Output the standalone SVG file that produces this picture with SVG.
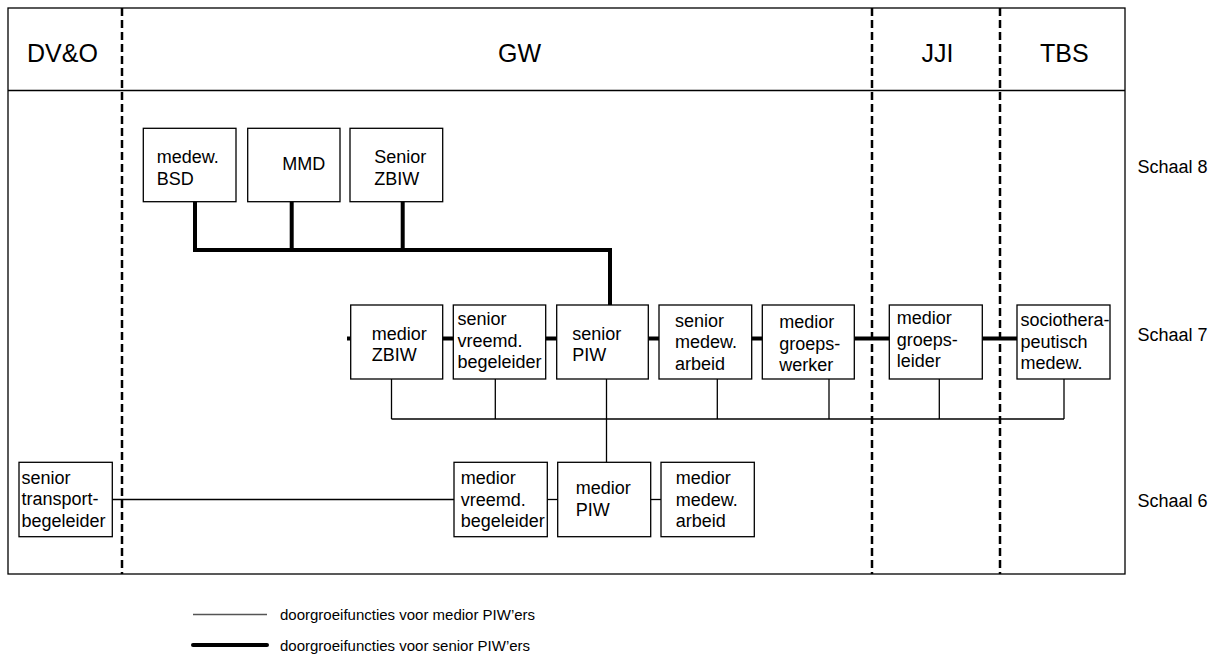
<svg xmlns="http://www.w3.org/2000/svg" width="1215" height="655" viewBox="0 0 1215 655">
<style>
text{font-family:"Liberation Sans",Arial,sans-serif;fill:#000}
.hd{font-size:25px}
.bx{font-size:18px}
.sc{font-size:18px}
.lg{font-size:15px}
.box{fill:#fff;stroke:#000;stroke-width:1.3}
.frame{fill:none;stroke:#000;stroke-width:1.3}
.dash{stroke:#000;stroke-width:2.5;stroke-dasharray:8 4;fill:none}
.thin{stroke:#000;stroke-width:1.3;fill:none}
.thick{stroke:#000;stroke-width:4;fill:none}
</style>
<rect width="1215" height="655" fill="#fff"/>
<g id="frame">
<rect class="frame" x="8" y="8" width="1117" height="566"/>
<line class="frame" x1="8" y1="90.5" x2="1125" y2="90.5"/>
<line class="dash" x1="122" y1="8" x2="122" y2="574"/>
<line class="dash" x1="872" y1="8" x2="872" y2="574"/>
<line class="dash" x1="1000" y1="8" x2="1000" y2="574"/>
<text class="hd" x="27" y="61.5">DV&amp;O</text>
<text class="hd" x="498" y="61.5">GW</text>
<text class="hd" x="921.5" y="61.5">JJI</text>
<text class="hd" x="1040" y="61.5">TBS</text>
<text class="sc" x="1137.5" y="173">Schaal 8</text>
<text class="sc" x="1137.5" y="341">Schaal 7</text>
<text class="sc" x="1137.5" y="507">Schaal 6</text>
</g>
<g id="connectors">
<polyline class="thick" points="195,201.7 195,250 610,250 610,305"/>
<line class="thick" x1="291.7" y1="201.7" x2="291.7" y2="250"/>
<line class="thick" x1="402.7" y1="201.7" x2="402.7" y2="250"/>
<line class="thick" x1="347" y1="338.5" x2="350.7" y2="338.5"/>
<line class="thick" x1="442.7" y1="338.5" x2="453.3" y2="338.5"/>
<line class="thick" x1="545.7" y1="338.5" x2="556.7" y2="338.5"/>
<line class="thick" x1="648.3" y1="338.5" x2="659" y2="338.5"/>
<line class="thick" x1="751.7" y1="338.5" x2="762.3" y2="338.5"/>
<line class="thick" x1="854.3" y1="338.5" x2="889.3" y2="338.5"/>
<line class="thick" x1="982.3" y1="338.5" x2="1017" y2="338.5"/>
<line class="thin" x1="391.5" y1="419" x2="1064" y2="419"/>
<line class="thin" x1="391.5" y1="379" x2="391.5" y2="419"/>
<line class="thin" x1="495.3" y1="379" x2="495.3" y2="419"/>
<line class="thin" x1="606.5" y1="379" x2="606.5" y2="462.3"/>
<line class="thin" x1="717.3" y1="379" x2="717.3" y2="419"/>
<line class="thin" x1="829" y1="379" x2="829" y2="419"/>
<line class="thin" x1="939.3" y1="379" x2="939.3" y2="419"/>
<line class="thin" x1="1064" y1="379" x2="1064" y2="419"/>
<line class="thin" x1="110" y1="499.5" x2="454" y2="499.5"/>
<line class="thin" x1="547.3" y1="499.5" x2="557.7" y2="499.5"/>
<line class="thin" x1="650.7" y1="499.5" x2="661" y2="499.5"/>
</g>
<g id="n-medew-bsd"><rect class="box" x="143.3" y="128.3" width="92.7" height="73.4"/><text class="bx" x="156.7"><tspan x="156.7" y="163.3">medew.</tspan><tspan x="156.7" y="185">BSD</tspan></text></g>
<g id="n-mmd"><rect class="box" x="247.7" y="128.3" width="92.3" height="73.4"/><text class="bx" x="282.3" y="170">MMD</text></g>
<g id="n-senior-zbiw"><rect class="box" x="350" y="128.3" width="92.7" height="73.4"/><text class="bx"><tspan x="374.3" y="163.3">Senior</tspan><tspan x="374.3" y="184.5">ZBIW</tspan></text></g>
<g id="n-medior-zbiw"><rect class="box" x="350.7" y="305" width="92" height="74"/><text class="bx"><tspan x="371.7" y="340">medior</tspan><tspan x="371.7" y="361">ZBIW</tspan></text></g>
<g id="n-senior-vreemd"><rect class="box" x="453.3" y="305" width="92.4" height="74"/><text class="bx"><tspan x="457.5" y="325">senior</tspan><tspan x="457.5" y="346.5">vreemd.</tspan><tspan x="457.5" y="368">begeleider</tspan></text></g>
<g id="n-senior-piw"><rect class="box" x="556.7" y="305" width="91.6" height="74"/><text class="bx"><tspan x="572.3" y="340">senior</tspan><tspan x="572.3" y="361">PIW</tspan></text></g>
<g id="n-senior-medew-arbeid"><rect class="box" x="659" y="305" width="92.7" height="74"/><text class="bx"><tspan x="675" y="326.5">senior</tspan><tspan x="675" y="348">medew.</tspan><tspan x="675" y="369.5">arbeid</tspan></text></g>
<g id="n-medior-groepswerker"><rect class="box" x="762.3" y="305" width="92" height="74"/><text class="bx"><tspan x="779.3" y="328">medior</tspan><tspan x="779.3" y="349.5">groeps-</tspan><tspan x="779.3" y="371">werker</tspan></text></g>
<g id="n-medior-groepsleider"><rect class="box" x="889.3" y="305" width="93" height="74"/><text class="bx"><tspan x="896.7" y="324">medior</tspan><tspan x="896.7" y="345.5">groeps-</tspan><tspan x="896.7" y="367">leider</tspan></text></g>
<g id="n-sociotherapeutisch"><rect class="box" x="1017" y="305" width="93" height="74"/><text class="bx"><tspan x="1020.5" y="326">sociothera-</tspan><tspan x="1020.5" y="347.5">peutisch</tspan><tspan x="1020.5" y="369">medew.</tspan></text></g>
<g id="n-senior-transport"><rect class="box" x="19" y="462.3" width="93.3" height="74.4"/><text class="bx"><tspan x="21.5" y="483.5">senior</tspan><tspan x="21.5" y="505">transport-</tspan><tspan x="21.5" y="526.5">begeleider</tspan></text></g>
<g id="n-medior-vreemd"><rect class="box" x="454" y="462.3" width="93.3" height="74.4"/><text class="bx"><tspan x="460.7" y="484">medior</tspan><tspan x="460.7" y="505.5">vreemd.</tspan><tspan x="460.7" y="527">begeleider</tspan></text></g>
<g id="n-medior-piw"><rect class="box" x="557.7" y="462.3" width="93" height="74.4"/><text class="bx"><tspan x="575.7" y="494">medior</tspan><tspan x="575.7" y="515.5">PIW</tspan></text></g>
<g id="n-medior-medew-arbeid"><rect class="box" x="661" y="462.3" width="93.3" height="74.4"/><text class="bx"><tspan x="675.7" y="484.3">medior</tspan><tspan x="675.7" y="505.8">medew.</tspan><tspan x="675.7" y="527.3">arbeid</tspan></text></g>
<g id="legend">
<line x1="193" y1="614.5" x2="267" y2="614.5" stroke="#555" stroke-width="1.3"/>
<text class="lg" x="280" y="620">doorgroeifuncties voor medior PIW’ers</text>
<line x1="193" y1="645" x2="267" y2="645" stroke="#000" stroke-width="4" stroke-linecap="round"/>
<text class="lg" x="280" y="650.5">doorgroeifuncties voor senior PIW’ers</text>
</g>
</svg>
